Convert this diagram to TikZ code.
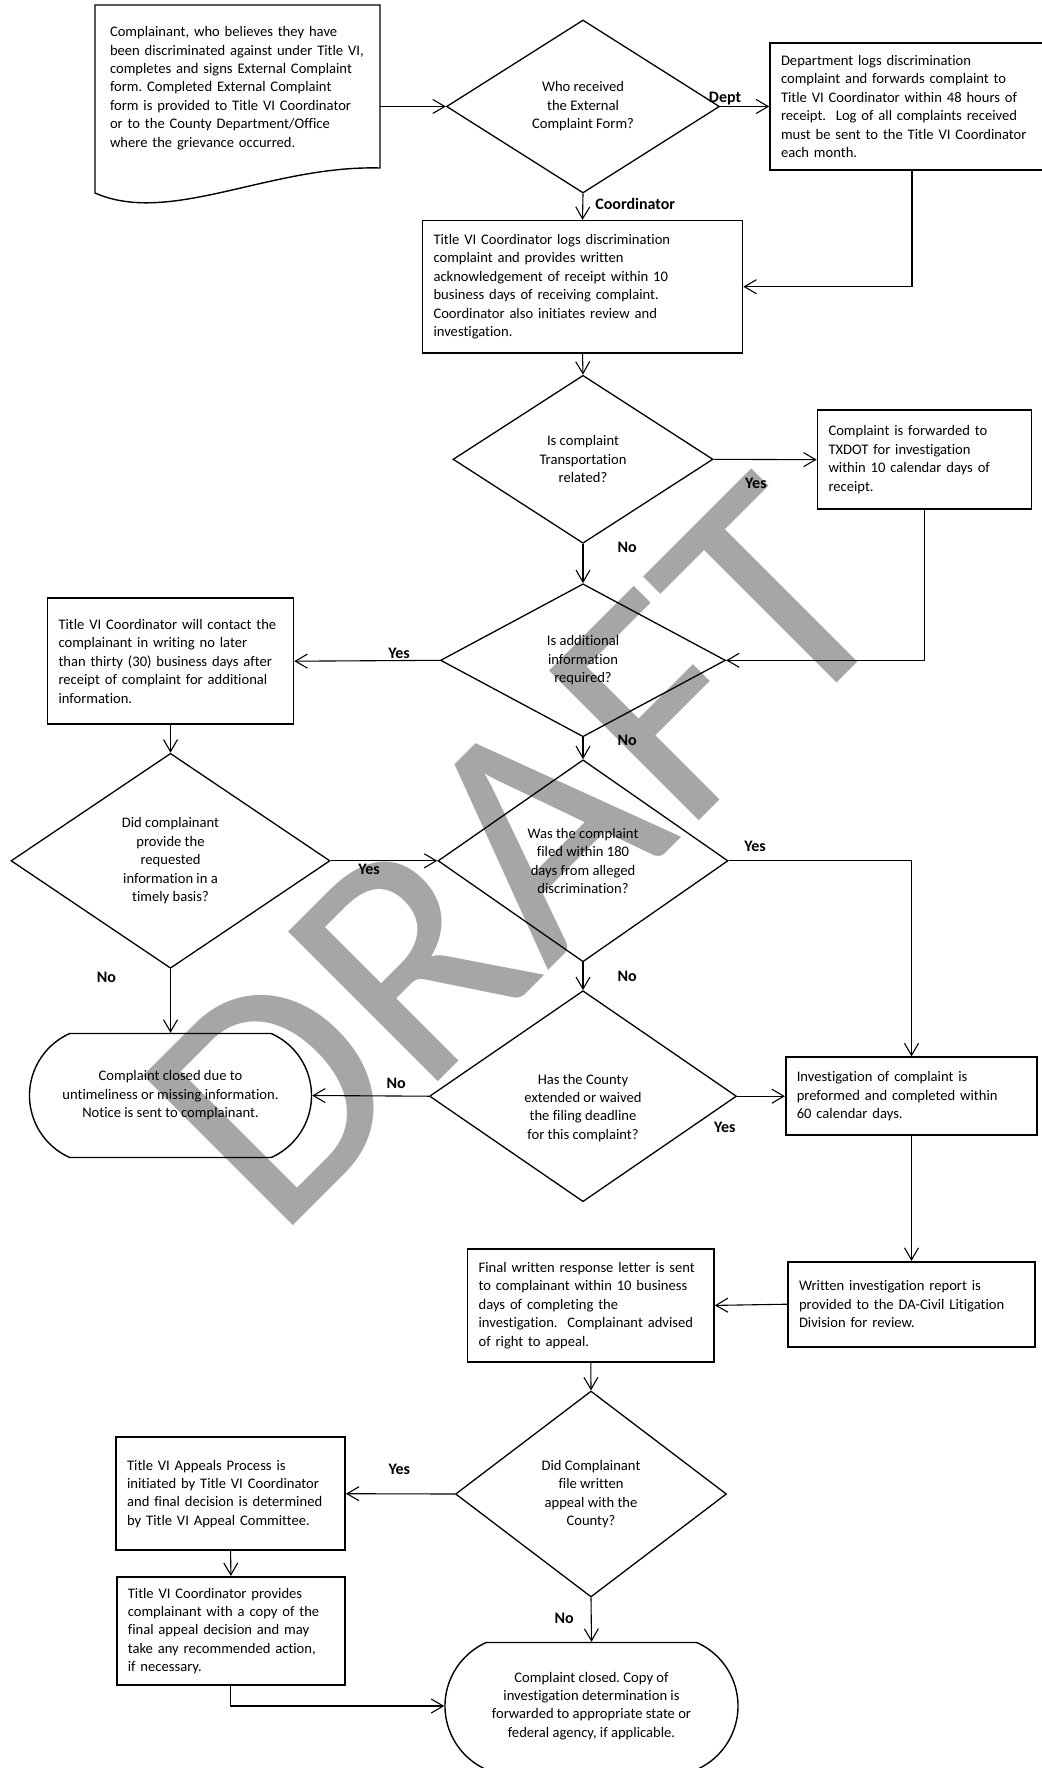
\documentclass[tikz,border=0pt]{standalone}
\usepackage{fontspec}
\setmainfont{Carlito}[Ligatures=NoCommon]
\usetikzlibrary{shapes.geometric,shapes.misc,arrows.meta,positioning}
\hyphenpenalty=10000
\exhyphenpenalty=10000
\frenchspacing

\newcommand{\boxfont}{\fontsize{14.6}{18.4}\selectfont}
\newcommand{\lblfont}{\fontsize{16}{18}\selectfont\bfseries}
\newcommand{\termtext}[1]{\makebox[140pt]{\begin{tabular}{@{}c@{}}#1\end{tabular}}}

\tikzstyle{proc} = [rectangle, draw, line width=1.6pt, align=left, inner xsep=11pt, inner ysep=0pt, font=\boxfont]
\tikzstyle{decision} = [diamond, draw, line width=1.3pt, align=center, inner sep=0pt, font=\boxfont]
\tikzstyle{term} = [rounded rectangle, rounded rectangle arc length=132, draw, line width=1.4pt, inner xsep=0pt, font=\boxfont]
\tikzstyle{lbl} = [inner sep=1pt, font=\lblfont]
\tikzstyle{arr} = [-{Straight Barb[length=12pt,width=14pt]}, line width=1.1pt]

\begin{document}
\begin{tikzpicture}[x=1pt,y=-1pt]
\useasboundingbox (0,0) rectangle (1041,1768);

\node[text=black!35, font=\fontsize{330}{330}\selectfont, rotate=45, inner sep=0pt] (wm) at (516,854) {DRAFT};

\node[align=left, text width=270pt, inner sep=0pt, font=\boxfont] (doc) at (245,88)
	{Complainant, who believes they have\\
	been discriminated against under Title VI,\\
	completes and signs External Complaint\\
	form. Completed External Complaint\\
	form is provided to Title VI Coordinator\\
	or to the County Department/Office\\
	where the grievance occurred.};
\draw[line width=1.4pt] (95,5) -- (380,5) -- (380,168) .. controls (270,165) and (170,226) .. (95,193) -- cycle;

\node[decision, minimum width=273pt, minimum height=173pt, shape aspect=1.58] (q1) at (583,106.5)
	{Who received\\the External\\Complaint Form?};
\node[proc, minimum width=274pt, minimum height=127pt, text width=252pt] (dept) at (907,106.5)
	{Department logs discrimination\\
	complaint and forwards complaint to\\
	Title VI Coordinator within 48 hours of\\
	receipt.~ Log of all complaints received\\
	must be sent to the Title VI Coordinator\\
	each month.};
\node[proc, minimum width=320pt, minimum height=132pt, text width=298pt] (coord) at (582.5,286.7)
	{Title VI Coordinator logs discrimination\\
	complaint and provides written\\
	acknowledgement of receipt within 10\\
	business days of receiving complaint.\\
	Coordinator also initiates review and\\
	investigation.};
\node[decision, minimum width=260pt, minimum height=168pt, shape aspect=1.55] (q2) at (583,459.3)
	{Is complaint\\Transportation\\related?};
\node[proc, minimum width=214pt, minimum height=99pt, text width=192pt] (txdot) at (924.5,459.7)
	{Complaint is forwarded to\\
	TXDOT for investigation\\
	within 10 calendar days of\\
	receipt.};
\node[decision, minimum width=285pt, minimum height=153pt, shape aspect=1.86] (q3) at (583,660.3)
	{Is additional\\information\\required?};
\node[proc, minimum width=246pt, minimum height=126pt, text width=224pt] (contact) at (170.5,661.2)
	{Title VI Coordinator will contact the\\
	complainant in writing no later\\
	than thirty (30) business days after\\
	receipt of complaint for additional\\
	information.};
\node[decision, minimum width=290pt, minimum height=202pt, shape aspect=1.44] (q4) at (583,860.8)
	{Was the complaint\\filed within 180\\days from alleged\\discrimination?};
\node[decision, minimum width=319pt, minimum height=215pt, shape aspect=1.48] (q5) at (170.5,860.8)
	{Did complainant\\provide the\\requested\\information in a\\timely basis?};
\node[term, minimum width=282pt, minimum height=124pt] (closed1) at (170.5,1095.5)
	{\termtext{Complaint closed due to\\
	untimeliness or missing information.\\
	Notice is sent to complainant.}};
\node[decision, minimum width=307pt, minimum height=211pt, shape aspect=1.45,
	label={[yshift=-11.5pt, align=center, font=\boxfont]center:Has the County\\extended or waived\\the filing deadline\\for this complaint?}] (q6) at (583,1096.2) {};
\node[proc, minimum width=251.5pt, minimum height=78pt, text width=229.5pt] (invest) at (911.5,1096.2)
	{Investigation of complaint is\\
	preformed and completed within\\
	60 calendar days.};
\node[proc, minimum width=247pt, minimum height=85pt, text width=225pt] (report) at (911.5,1304.2)
	{Written investigation report is\\
	provided to the DA-Civil Litigation\\
	Division for review.};
\node[proc, minimum width=246.4pt, minimum height=113pt, text width=224.4pt] (final) at (590.8,1305.4)
	{Final written response letter is sent\\
	to complainant within 10 business\\
	days of completing the\\
	investigation.~ Complainant advised\\
	of right to appeal.};
\node[decision, minimum width=271pt, minimum height=206pt, shape aspect=1.32] (q7) at (591,1494)
	{Did Complainant\\file written\\appeal with the\\County?};
\node[proc, minimum width=229pt, minimum height=113pt, text width=207pt] (appeal) at (230.6,1493.7)
	{Title VI Appeals Process is\\
	initiated by Title VI Coordinator\\
	and final decision is determined\\
	by Title VI Appeal Committee.};
\node[proc, minimum width=228.2pt, minimum height=108.3pt, text width=206.2pt] (provide) at (230.9,1630.9)
	{Title VI Coordinator provides\\
	complainant with a copy of the\\
	final appeal decision and may\\
	take any recommended action,\\
	if necessary.};
\node[term, minimum width=293pt, minimum height=127pt] (closed2) at (591.5,1706)
	{\termtext{Complaint closed. Copy of\\
	investigation determination is\\
	forwarded to appropriate state or\\
	federal agency, if applicable.}};

\draw[arr] (q1.west -| doc.east) -- (q1.west);
\draw[arr] (q1.east) -- node[lbl, pos=0.1, above] (ldept) {Dept} (dept.west);
\draw[arr] (q1.south) -- node[lbl, pos=0.4, right=11pt] (lcoord) {Coordinator} (coord.north);
\draw[arr] ([xshift=5pt]dept.south) |- (coord.east);
\draw[arr] (coord.south) -- (q2.north);
\draw[arr] (q2.east) -- node[lbl, pos=0.41, below=17pt] (lq2y) {Yes} (txdot.west);
\draw[arr] (txdot.south) |- (q3.east);
\draw[arr] (q2.south) -- node[lbl, pos=0.08, right=33pt] (lq2n) {No} (q3.north);
\draw[arr] (q3.west) -- node[lbl, pos=0.28, above] (lq3y) {Yes} (contact.east);
\draw[arr] (q3.south) -- node[lbl, pos=0.14, right=33pt] (lq3n) {No} (q4.north);
\draw[arr] (contact.south) -- (q5.north);
\draw[arr] (q5.east) -- node[lbl, pos=0.36, below=2pt] (lq5y) {Yes} (q4.west);
\draw[arr] (q4.east) -| node[lbl, pos=0.072, above=8pt] (lq4y) {Yes} (invest.north);
\draw[arr] (q5.south) -- node[lbl, pos=0.13, left=53pt] (lq5n) {No} (closed1.north);
\draw[arr] (q4.south) -- node[lbl, pos=0.49, right=33pt] (lq4n) {No} (q6.north);
\draw[arr] (q6.west) -- node[lbl, pos=0.28, above=6pt] (lq6n) {No} (closed1.east);
\draw[arr] (q6.east) -- node[lbl, pos=0, below left=24pt and 0pt] (lq6y) {Yes} (invest.west);
\draw[arr] (invest.south) -- (report.north);
\draw[arr] (report.west) -- (final.east);
\draw[arr] (final.south) -- (q7.north);
\draw[arr] (q7.west) -- node[lbl, pos=0.51, above=18pt] (lq7y) {Yes} (appeal.east);
\draw[arr] (appeal.south) -- (provide.north);
\draw[arr] (provide.south) |- (closed2.west);
\draw[arr] (q7.south) -- node[lbl, pos=0.48, left=16pt] (lq7n) {No} (closed2.north);
\end{tikzpicture}
\end{document}
